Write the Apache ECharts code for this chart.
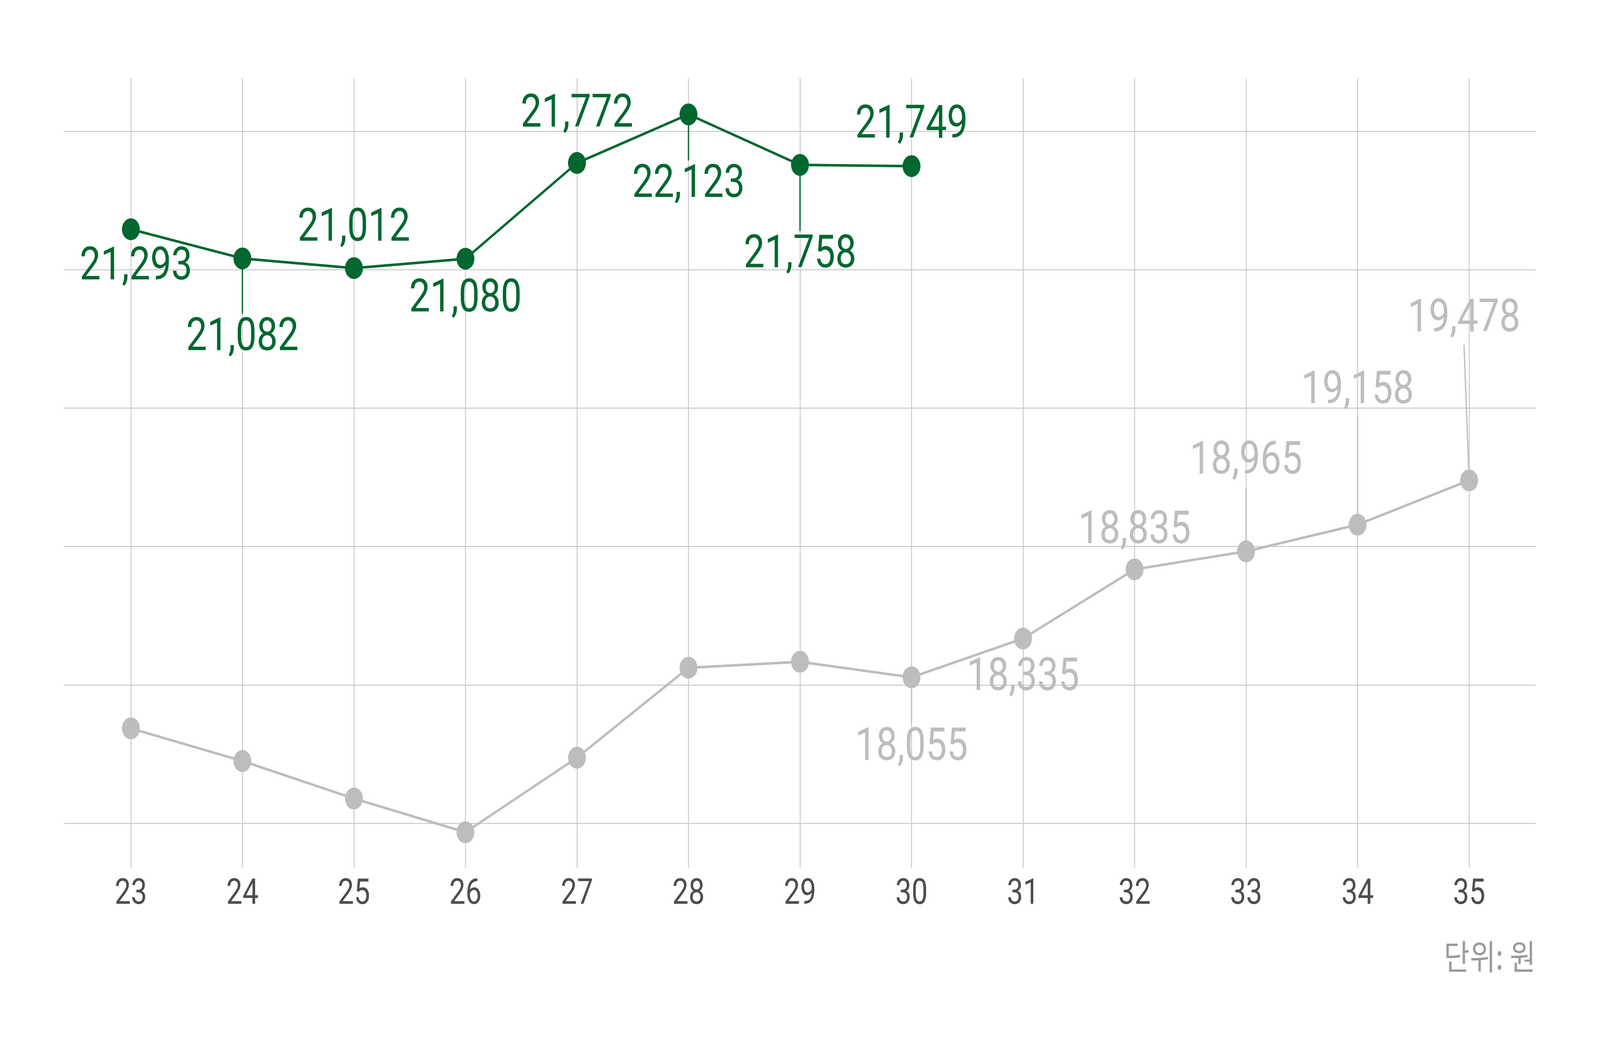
<!DOCTYPE html>
<html>
<head>
<meta charset="utf-8">
<script src="https://cdn.jsdelivr.net/npm/echarts@6/dist/echarts.min.js"></script>
<style>
html, body { margin: 0; padding: 0; background: #ffffff; overflow: hidden; }
#chart { width: 5000px; height: 2700px; transform-origin: 0 0; }
</style>
</head>
<body>
<div id="chart"></div>
<script>
// ---------- data ----------
const categories = ['23', '24', '25', '26', '27', '28', '29', '30', '31', '32', '33', '34', '35'];
const greenValues = [21293, 21082, 21012, 21080, 21772, 22123, 21758, 21749, null, null, null, null, null];
const grayValues = [17686, 17450, 17179, 16935, 17474, 18124, 18167, 18055, 18335, 18835, 18965, 19158, 19478];
const grayLabelShown = [false, false, false, false, false, false, false, true, true, true, true, true, true];
const gridLineMin = 17000;
const gridLineMax = 22000;
const gridLineStep = 1000;
const unitText = '단위: 원';

// ---------- layout / style (5000 x 2700 canvas, fitted to the window) ----------
const el = document.getElementById('chart');
const vw = document.documentElement.clientWidth || window.innerWidth;
const vh = document.documentElement.clientHeight || window.innerHeight;
el.style.transform = 'scale(' + (vw / 5000) + ',' + (vh / 2700) + ')';

const GREEN = '#00672F';
const GRAY = '#BDBDBD';
const GRID_COLOR = '#C8C8C8';
const FONT = 'Roboto, "Noto Sans CJK KR", sans-serif';

const yMin = 16678;
const yMax = 22385;
const plot = { left: 409, right: 409, top: 200, bottom: 479 };
const plotHeight = 2700 - plot.top - plot.bottom;
const pxPerUnit = plotHeight / (yMax - yMin);
const hGrid = {
  left: 200,
  right: 201,
  top: plot.top + (yMax - gridLineMax) * pxPerUnit,
  bottom: plot.bottom + (gridLineMin - yMin) * pxPerUnit
};

// label placement per point: [dx, dy] and whether a leader line is drawn
const greenLabelOffset = [[16, 99], [0, 205], [0, -99], [0, 106], [0, -122], [0, 182], [0, 233], [0, -102]];
const greenLeader = [false, true, false, false, false, true, true, false];
const grayLabelOffset = [null, null, null, null, null, null, null, [0, 182], [0, 103], [0, -96], [0, -228], [0, -340], [-16, -411]];
const grayLeader = [false, false, false, false, false, false, false, true, false, false, true, true, true];
const leaderGap = 64;

const labelFontSize = 117;

const greenData = greenValues.map((v, i) => {
  if (v == null) return { value: null };
  return { value: v, label: { offset: greenLabelOffset[i] } };
});
const grayData = grayValues.map((v, i) => ({
  value: v,
  label: grayLabelShown[i] ? { show: true, offset: grayLabelOffset[i] } : { show: false }
}));

const fmt = (p) => Number(p.value).toLocaleString('en-US');

function leaderSeries(values, offsets, leaders, color) {
  return {
    type: 'custom',
    xAxisIndex: 1,
    yAxisIndex: 1,
    silent: true,
    z: 1,
    data: values.map((v, i) => [i, v]),
    renderItem: function (params, api) {
      const i = params.dataIndex;
      const v = api.value(1);
      if (!leaders[i] || v == null || isNaN(v)) return null;
      const p = api.coord([api.value(0), v]);
      const off = offsets[i];
      const dy = off[1] - Math.sign(off[1]) * leaderGap;
      return {
        type: 'line',
        shape: { x1: p[0], y1: p[1], x2: p[0] + off[0], y2: p[1] + dy },
        style: { stroke: color, lineWidth: 4 }
      };
    }
  };
}

const chart = echarts.init(el, null, { renderer: 'canvas', width: 5000, height: 2700, devicePixelRatio: 1 });
chart.setOption({
  animation: false,
  backgroundColor: '#ffffff',
  title: {
    text: unitText,
    right: 201,
    top: 2404,
    padding: 0,
    textStyle: { fontFamily: '"Noto Sans CJK KR", sans-serif', fontSize: 88, fontWeight: 'normal', color: '#9A9A9A' }
  },
  grid: [
    { left: hGrid.left, right: hGrid.right, top: hGrid.top, bottom: hGrid.bottom, containLabel: false },
    { left: plot.left, right: plot.right, top: plot.top, bottom: plot.bottom, containLabel: false }
  ],
  xAxis: [
    { gridIndex: 0, type: 'value', min: 0, max: 1, show: false },
    {
      gridIndex: 1,
      type: 'category',
      data: categories,
      boundaryGap: false,
      axisLine: { show: false },
      axisTick: { show: false },
      axisLabel: { interval: 0, margin: 24, fontSize: 90, fontFamily: FONT, color: '#4D4D4D' },
      splitLine: { show: true, interval: 0, lineStyle: { color: GRID_COLOR, width: 2.7 } }
    }
  ],
  yAxis: [
    {
      gridIndex: 0,
      type: 'value',
      min: gridLineMin,
      max: gridLineMax,
      interval: gridLineStep,
      axisLine: { show: false },
      axisTick: { show: false },
      axisLabel: { show: false },
      splitLine: { show: true, lineStyle: { color: GRID_COLOR, width: 2.7 } }
    },
    {
      gridIndex: 1,
      type: 'value',
      min: yMin,
      max: yMax,
      axisLine: { show: false },
      axisTick: { show: false },
      axisLabel: { show: false },
      splitLine: { show: false }
    }
  ],
  series: [
    leaderSeries(grayValues, grayLabelOffset, grayLeader, GRAY),
    leaderSeries(greenValues, greenLabelOffset, greenLeader, GREEN),
    {
      name: '이전',
      type: 'line',
      xAxisIndex: 1,
      yAxisIndex: 1,
      data: grayData,
      symbol: 'circle',
      symbolSize: 56,
      showAllSymbol: true,
      lineStyle: { color: GRAY, width: 6.5 },
      itemStyle: { color: GRAY },
      label: {
        show: true,
        position: 'inside',
        formatter: fmt,
        fontFamily: FONT,
        fontSize: labelFontSize,
        color: GRAY
      },
      emphasis: { disabled: true },
      z: 2
    },
    {
      name: '현재',
      type: 'line',
      xAxisIndex: 1,
      yAxisIndex: 1,
      data: greenData,
      symbol: 'circle',
      symbolSize: 56,
      showAllSymbol: true,
      lineStyle: { color: GREEN, width: 6.5 },
      itemStyle: { color: GREEN },
      label: {
        show: true,
        position: 'inside',
        formatter: fmt,
        fontFamily: FONT,
        fontSize: labelFontSize,
        color: GREEN
      },
      emphasis: { disabled: true },
      z: 3
    }
  ]
});
</script>
</body>
</html>
